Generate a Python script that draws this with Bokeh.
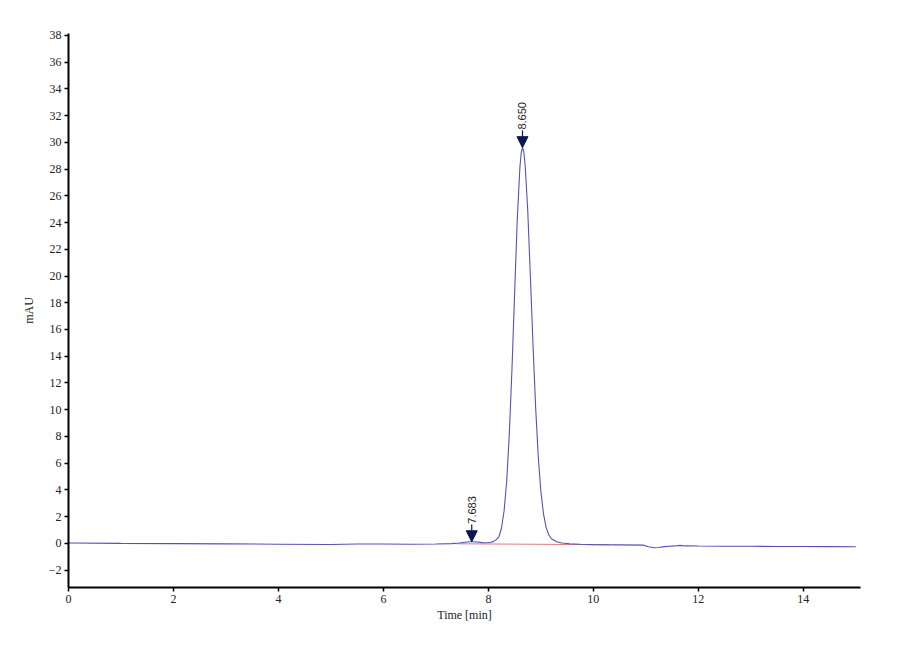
import math
from bokeh.plotting import figure
from bokeh.models import Range1d, FixedTicker, Arrow, NormalHead, Label
from bokeh.embed import file_html
from bokeh.resources import INLINE

# ---- data ----
time_min = [0.0, 1.0, 2.0, 3.0, 4.0, 5.0, 5.5, 6.0, 6.5, 7.0, 7.3, 7.45, 7.55, 7.65,
            7.70, 7.78, 7.88, 7.98, 8.05, 8.10, 8.15, 8.20, 8.25, 8.30, 8.35, 8.40,
            8.45, 8.50, 8.55, 8.60, 8.625, 8.65, 8.675, 8.70, 8.75, 8.80, 8.85, 8.90,
            8.95, 9.00, 9.05, 9.10, 9.15, 9.20, 9.30, 9.40, 9.55, 9.75, 10.0, 10.5,
            10.95, 11.05, 11.15, 11.25, 11.35, 11.45, 11.55, 11.65, 11.75, 12.0,
            12.5, 13.0, 13.5, 14.0, 14.5, 15.0]
signal_mau = [0.03, 0.0, -0.02, -0.04, -0.06, -0.08, -0.05, -0.05, -0.06, -0.05, -0.02,
              0.03, 0.08, 0.12, 0.12, 0.10, 0.06, 0.05, 0.08, 0.15, 0.28, 0.48, 1.15,
              2.45, 4.7, 8.3, 13.1, 18.7, 24.2, 28.1, 29.2, 29.6, 29.3, 28.3, 24.9,
              20.0, 14.9, 10.2, 6.5, 3.9, 2.2, 1.2, 0.65, 0.35, 0.12, 0.03, -0.03,
              -0.07, -0.09, -0.11, -0.13, -0.25, -0.33, -0.31, -0.24, -0.21, -0.19,
              -0.15, -0.19, -0.20, -0.21, -0.22, -0.23, -0.23, -0.24, -0.25]

baseline_t = [7.40, 10.30]
baseline_v = [-0.03, -0.10]

peak_times = [7.683, 8.650]
peak_heights = [0.12, 29.6]
peak_labels = ["7.683", "8.650"]

x_ticks = [0, 2, 4, 6, 8, 10, 12, 14]
y_ticks = [-2, 0, 2, 4, 6, 8, 10, 12, 14, 16, 18, 20, 22, 24, 26, 28, 30, 32, 34, 36, 38]

# ---- figure ----
p = figure(width=880, height=640, output_backend="svg", toolbar_location=None,
           x_range=Range1d(0, 15.09), y_range=Range1d(-3.3, 38.14),
           min_border_left=68, min_border_top=33, min_border_right=20, min_border_bottom=53)
p.outline_line_color = None
p.background_fill_color = "white"
p.border_fill_color = "white"
p.grid.visible = False

p.line(baseline_t, baseline_v, line_color="#e07a7a", line_width=1)
p.line(time_min, signal_mau, line_color="#5252b8", line_width=1.1)

for t, h, lab in zip(peak_times, peak_heights, peak_labels):
    p.add_layout(Arrow(end=NormalHead(size=11, fill_color="#0c1650", line_color="#0c1650"),
                       x_start=t, y_start=h + 1.3, x_end=t, y_end=h,
                       line_color="#0c1650", line_width=1.2))
    p.add_layout(Label(x=t, y=h + 1.35, text=lab, angle=math.pi / 2,
                       text_align="left", text_baseline="middle",
                       text_font="Liberation Sans", text_font_size="11px",
                       text_color="#222222"))

for ax in (p.xaxis[0], p.yaxis[0]):
    ax.axis_line_color = "black"
    ax.axis_line_width = 2
    ax.major_tick_line_color = "black"
    ax.major_tick_line_width = 1.5
    ax.major_tick_out = 4
    ax.major_tick_in = 0
    ax.minor_tick_line_color = None
    ax.major_label_text_font = "Liberation Serif"
    ax.major_label_text_font_size = "12px"
    ax.major_label_text_color = "#222222"
    ax.major_label_standoff = 3
    ax.axis_label_text_font = "Liberation Serif"
    ax.axis_label_text_font_size = "12px"
    ax.axis_label_text_font_style = "normal"
    ax.axis_label_text_color = "#222222"

p.xaxis[0].ticker = FixedTicker(ticks=x_ticks)
p.yaxis[0].ticker = FixedTicker(ticks=y_ticks)
p.xaxis[0].axis_label = "Time [min]"
p.yaxis[0].axis_label = "mAU"
p.xaxis[0].axis_label_standoff = 2
p.yaxis[0].axis_label_standoff = 10

open("out.html", "w").write(file_html(p, INLINE))
